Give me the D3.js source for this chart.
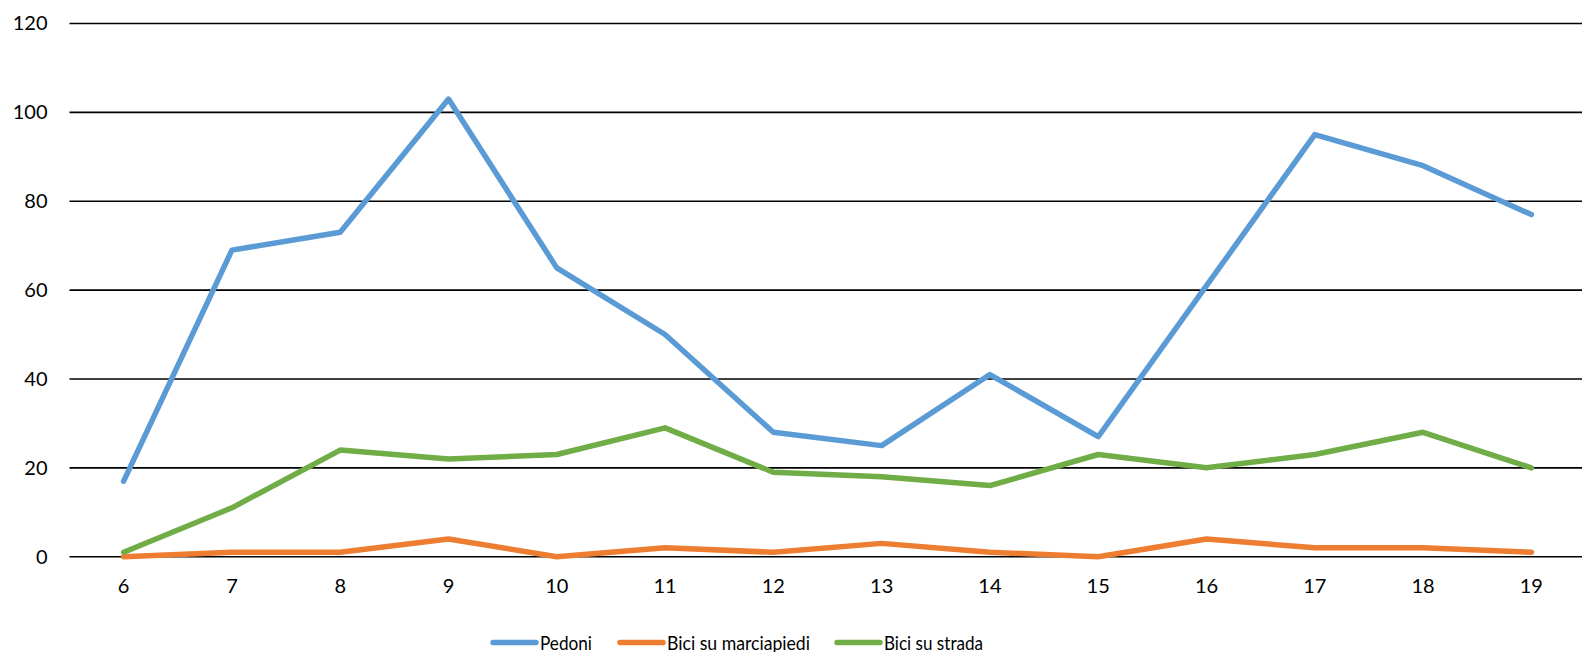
<!DOCTYPE html>
<html>
<head>
<meta charset="utf-8">
<script src="https://cdn.jsdelivr.net/npm/d3@7"></script>
<style>
  html, body { margin: 0; padding: 0; background: #fff; overflow: hidden; }
  text { font-family: Lato, "Liberation Sans", sans-serif; fill: #000; }
</style>
</head>
<body>
<svg id="chart" width="1582" height="652"></svg>
<script>
const hours = ["6","7","8","9","10","11","12","13","14","15","16","17","18","19"];
const pedoni = [17, 69, 73, 103, 65, 50, 28, 25, 41, 27, 61, 95, 88, 77];
const biciMarciapiedi = [0, 1, 1, 4, 0, 2, 1, 3, 1, 0, 4, 2, 2, 1];
const biciStrada = [1, 11, 24, 22, 23, 29, 19, 18, 16, 23, 20, 23, 28, 20];
const yTicks = [0, 20, 40, 60, 80, 100, 120];
const seriesNames = ["Pedoni", "Bici su marciapiedi", "Bici su strada"];
const seriesColors = ["#5B9BD5", "#ED7D31", "#70AD47"];

(function () {
const series = [
  { name: seriesNames[0], values: pedoni, color: seriesColors[0] },
  { name: seriesNames[1], values: biciMarciapiedi, color: seriesColors[1] },
  { name: seriesNames[2], values: biciStrada, color: seriesColors[2] }
];

const svg = d3.select("#chart");
const pLeft = 69.5, pRight = 1585.5, pTop = 23.5, pBottom = 556.7;

const x = d3.scaleBand().domain(hours).range([pLeft, pRight]).padding(0);
const y = d3.scaleLinear().domain([0, 120]).range([pBottom, pTop]);

// gridlines
svg.append("g")
  .selectAll("line")
  .data(yTicks)
  .join("line")
  .attr("x1", pLeft).attr("x2", 1582)
  .attr("y1", d => y(d)).attr("y2", d => y(d))
  .attr("stroke", "#000").attr("stroke-width", 1.6);

// y labels
const yAxis = d3.axisLeft(y).tickValues(yTicks).tickSize(0).tickPadding(22);
const yg = svg.append("g").attr("transform", `translate(${pLeft},0)`).call(yAxis);
yg.select(".domain").remove();
yg.selectAll("text").attr("font-size", 20).attr("font-family", "Lato, 'Liberation Sans', sans-serif").attr("fill", "#000");

// x labels
const xAxis = d3.axisBottom(x).tickSize(0).tickPadding(22);
const xg = svg.append("g").attr("transform", `translate(0,${pBottom})`).call(xAxis);
xg.select(".domain").remove();
xg.selectAll("text").attr("font-size", 20).attr("font-family", "Lato, 'Liberation Sans', sans-serif").attr("fill", "#000");

// lines
const line = d3.line()
  .x((d, i) => x(hours[i]) + x.bandwidth() / 2)
  .y(d => y(d));

svg.append("g")
  .selectAll("path")
  .data(series)
  .join("path")
  .attr("d", d => line(d.values))
  .attr("fill", "none")
  .attr("stroke", d => d.color)
  .attr("stroke-width", 5.5)
  .attr("stroke-linejoin", "round")
  .attr("stroke-linecap", "round");

// legend
const legendItems = [
  { x: 493, tx: 540, w: 52 },
  { x: 620, tx: 667, w: 143 },
  { x: 837, tx: 884, w: 99 }
];
const lg = svg.append("g");
series.forEach((s, i) => {
  const it = legendItems[i];
  lg.append("line")
    .attr("x1", it.x).attr("x2", it.x + 43)
    .attr("y1", 642.5).attr("y2", 642.5)
    .attr("stroke", s.color).attr("stroke-width", 5.5)
    .attr("stroke-linecap", "round");
  lg.append("text")
    .attr("x", it.tx).attr("y", 642.5)
    .attr("dy", "0.35em")
    .attr("font-size", 20)
    .attr("textLength", it.w)
    .attr("lengthAdjust", "spacingAndGlyphs")
    .text(s.name);
});
})();
</script>
</body>
</html>
